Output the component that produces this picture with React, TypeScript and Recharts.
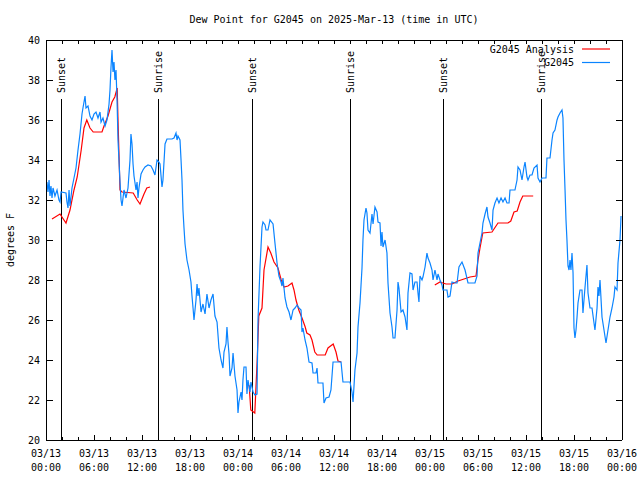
import React from 'react';
import { LineChart, Line, XAxis, YAxis, ReferenceLine, Legend } from 'recharts';

const FONT = "'DejaVu Sans Mono', 'Liberation Mono', monospace";
const TITLE = 'Dew Point for G2045 on 2025-Mar-13 (time in UTC)';
const Y_LABEL = 'degrees F';
const Y_TICKS = [20, 22, 24, 26, 28, 30, 32, 34, 36, 38, 40];
const X_TICKS = [0, 2, 4, 6, 8, 10, 12, 14, 16, 18, 20, 22, 24, 26, 28, 30, 32, 34, 36, 38, 40, 42, 44, 46, 48, 50, 52, 54, 56, 58, 60, 62, 64, 66, 68, 70, 72];
const X_LABEL_HOURS = [0, 6, 12, 18, 24, 30, 36, 42, 48, 54, 60, 66, 72];
const X_LABEL_DATES = ['03/13', '03/13', '03/13', '03/13', '03/14', '03/14', '03/14', '03/14', '03/15', '03/15', '03/15', '03/15', '03/16'];
const X_LABEL_TIMES = ['00:00', '06:00', '12:00', '18:00', '00:00', '06:00', '12:00', '18:00', '00:00', '06:00', '12:00', '18:00', '00:00'];
const SUN_HOURS = [1.875, 14, 25.75, 38, 49.625, 61.875];
const SUN_LABELS = ['Sunset', 'Sunrise', 'Sunset', 'Sunrise', 'Sunset', 'Sunrise'];
const SUN_LINE_TOP = 37.05;

const SERIES_ANALYSIS = 'G2045 Analysis';
const SERIES_OBS = 'G2045';
const SERIES_ORDER = [SERIES_ANALYSIS, SERIES_OBS];
const RED = '#ff0000';
const BLUE = '#0a84ff';

// [hours since 03/13 00:00 UTC, dew point F]
const observed: [number, number][] = [
  [0, 32.5], [0.12, 32.9], [0.25, 32.4], [0.38, 33.0], [0.5, 32.2], [0.62, 32.7], [0.75, 32.1], [0.88, 32.6],
  [1.12, 32.2], [1.38, 32.5], [1.62, 32.0], [1.75, 31.9], [1.88, 32.4], [2.5, 32.35], [2.62, 31.9], [2.75, 31.6],
  [2.88, 32.5], [3.0, 31.7], [3.25, 32.6], [3.5, 33.1], [3.75, 33.6], [4.0, 34.5], [4.25, 35.3], [4.5, 36.3],
  [4.62, 36.6], [4.88, 37.2], [5.0, 36.6], [5.25, 36.7], [5.5, 36.2], [5.75, 36.0], [6.0, 36.3], [6.25, 36.4],
  [6.5, 36.1], [6.75, 36.4], [6.88, 35.9], [7.12, 36.1], [7.38, 35.7], [7.62, 36.0], [7.88, 36.8], [8.0, 37.5],
  [8.12, 38.6], [8.25, 39.5], [8.38, 38.4], [8.5, 38.9], [8.62, 38.0], [8.75, 38.5], [8.88, 37.0], [9.0, 35.0],
  [9.12, 34.0], [9.25, 32.9], [9.38, 32.0], [9.5, 31.7], [9.75, 32.5], [10.0, 32.1], [10.25, 32.6], [10.5, 34.0],
  [10.62, 35.3], [10.75, 34.8], [10.88, 33.8], [11.0, 33.2], [11.25, 32.5], [11.38, 32.9], [11.5, 32.1], [11.62, 32.6],
  [11.88, 33.3], [12.12, 33.5], [12.38, 33.65], [12.75, 33.75], [13.12, 33.7], [13.38, 33.5], [13.62, 33.25], [13.88, 34.0],
  [14.12, 33.9], [14.25, 33.8], [14.5, 32.65], [14.62, 33.0], [14.88, 34.8], [15.12, 35.05], [15.75, 35.05], [16.0, 35.1],
  [16.25, 35.35], [16.38, 35.0], [16.5, 35.2], [16.75, 35.0], [16.88, 34.0], [17.0, 33.0], [17.12, 31.5], [17.25, 30.6],
  [17.38, 29.8], [17.62, 29.0], [17.88, 28.5], [18.12, 27.9], [18.25, 27.2], [18.38, 26.6], [18.5, 26.0], [18.75, 27.0],
  [18.88, 27.8], [19.0, 27.2], [19.12, 27.6], [19.38, 26.4], [19.62, 26.8], [19.88, 26.3], [20.12, 27.3], [20.38, 26.6],
  [20.62, 27.0], [20.88, 27.3], [21.12, 26.2], [21.38, 25.9], [21.62, 24.6], [21.88, 24.0], [22.12, 23.6], [22.25, 24.4],
  [22.5, 24.8], [22.62, 25.65], [22.75, 24.9], [22.88, 24.3], [23.0, 23.2], [23.25, 23.6], [23.38, 24.35], [23.62, 23.2],
  [23.88, 22.5], [24.0, 21.35], [24.12, 21.9], [24.38, 22.4], [24.5, 22.0], [24.62, 23.0], [24.75, 23.65], [25.0, 23.65],
  [25.12, 22.3], [25.25, 23.0], [25.5, 22.4], [25.62, 22.9], [25.88, 22.4], [26.12, 22.25], [26.38, 22.3], [26.5, 26.0],
  [26.75, 28.65], [27.0, 30.65], [27.12, 30.9], [27.38, 30.75], [27.5, 30.5], [27.75, 30.5], [28.0, 31.0], [28.38, 30.8],
  [28.62, 29.85], [28.88, 28.85], [29.12, 28.2], [29.38, 27.9], [29.5, 27.7], [29.62, 28.1], [29.88, 27.1], [30.12, 26.65],
  [30.38, 26.4], [30.62, 26.0], [30.88, 26.5], [31.12, 26.6], [31.38, 26.75], [31.62, 26.6], [31.88, 26.5], [32.0, 25.4],
  [32.12, 25.6], [32.38, 25.0], [32.62, 24.6], [32.88, 23.9], [33.25, 23.85], [33.38, 23.35], [33.75, 23.35], [33.88, 23.6],
  [34.0, 22.85], [34.62, 22.85], [34.75, 21.85], [35.0, 22.1], [35.38, 22.15], [35.62, 22.5], [35.88, 23.9], [36.88, 23.9],
  [37.12, 22.9], [38.0, 22.9], [38.25, 22.4], [38.38, 21.9], [38.62, 23.5], [38.88, 24.35], [39.0, 25.65], [39.25, 26.85],
  [39.5, 28.6], [39.62, 30.0], [39.75, 31.0], [40.0, 31.6], [40.12, 31.35], [40.25, 30.5], [40.5, 30.35], [40.75, 31.3],
  [40.88, 30.8], [41.12, 31.65], [41.38, 31.4], [41.5, 30.9], [41.75, 30.85], [41.88, 29.7], [42.0, 30.4], [42.12, 29.65],
  [42.38, 30.0], [42.62, 29.35], [42.75, 27.85], [43.0, 26.35], [43.25, 25.65], [43.38, 25.1], [43.62, 25.1], [43.88, 26.5],
  [44.0, 27.9], [44.12, 27.6], [44.38, 26.4], [44.62, 26.5], [44.88, 26.15], [45.12, 25.5], [45.25, 27.35], [45.5, 28.35],
  [45.75, 28.3], [45.88, 27.5], [46.12, 27.9], [46.38, 27.9], [46.5, 27.35], [46.62, 26.9], [46.75, 28.2], [47.0, 28.0],
  [47.12, 28.15], [47.38, 28.65], [47.62, 29.35], [47.75, 29.1], [48.0, 28.85], [48.25, 28.5], [48.38, 28.0], [48.62, 28.5],
  [48.88, 28.0], [49.0, 28.3], [49.25, 28.0], [49.5, 27.75], [49.62, 27.5], [49.88, 27.5], [50.12, 27.5], [50.25, 27.15],
  [50.5, 27.2], [50.75, 27.9], [51.12, 27.85], [51.38, 27.85], [51.62, 28.65], [52.0, 28.9], [52.38, 28.5], [52.75, 27.85],
  [53.62, 27.85], [53.88, 28.2], [54.0, 29.35], [54.25, 29.85], [54.5, 30.35], [54.62, 30.85], [54.88, 31.3], [55.12, 31.65],
  [55.25, 31.15], [55.5, 30.85], [55.75, 30.5], [55.88, 31.5], [56.12, 31.85], [56.38, 32.1], [56.62, 31.85], [56.88, 32.1],
  [57.12, 31.9], [57.38, 32.1], [57.62, 31.85], [57.88, 31.85], [58.0, 32.5], [58.62, 32.5], [58.88, 33.0], [59.0, 33.65],
  [59.25, 33.5], [59.5, 33.0], [59.75, 33.65], [59.88, 33.9], [60.12, 33.15], [60.25, 33.0], [60.5, 33.25], [60.75, 33.25],
  [61.0, 33.6], [61.38, 33.75], [61.5, 33.1], [61.75, 32.9], [62.0, 33.1], [62.5, 33.1], [62.62, 34.1], [63.0, 34.1],
  [63.25, 35.0], [63.38, 35.35], [63.62, 35.5], [63.88, 36.0], [64.0, 36.15], [64.25, 36.35], [64.5, 36.5], [64.62, 36.1],
  [64.75, 34.0], [64.88, 32.5], [65.0, 31.0], [65.12, 30.0], [65.25, 28.7], [65.38, 28.5], [65.5, 29.0], [65.62, 28.5],
  [65.75, 29.35], [65.88, 28.35], [66.0, 25.6], [66.12, 25.1], [66.25, 25.5], [66.38, 26.15], [66.5, 26.85], [66.75, 27.5],
  [67.0, 27.5], [67.12, 26.35], [67.38, 27.65], [67.62, 28.75], [67.75, 27.35], [68.0, 26.6], [68.25, 26.6], [68.5, 25.85],
  [68.62, 25.5], [68.88, 26.6], [69.0, 27.65], [69.12, 27.2], [69.25, 28.0], [69.5, 26.15], [69.75, 25.5], [70.0, 24.85],
  [70.25, 25.5], [70.5, 26.15], [70.75, 26.6], [71.0, 27.15], [71.12, 27.65], [71.38, 27.5], [71.5, 28.85], [71.75, 30.0],
  [71.88, 31.2],
];

// null marks a gap in the analysis series
const analysis: [number, number | null][] = [
  [0.75, 31.05], [1.75, 31.3], [2.5, 30.85], [3.0, 31.5], [3.5, 32.5], [3.9, 33.15], [4.4, 34.5], [4.75, 35.6],
  [5.1, 36.0], [5.5, 35.6], [5.9, 35.4], [7.0, 35.4], [7.25, 35.7], [7.75, 36.2], [8.25, 36.9], [8.6, 37.15],
  [8.9, 37.6], [9.0, 36.0], [9.25, 32.5], [9.5, 32.4], [10.9, 32.35], [11.4, 32.0], [11.75, 31.8], [12.25, 32.3],
  [12.6, 32.6], [13.0, 32.65],
  [19.0, null],
  [25.1, 22.85], [25.4, 22.7], [25.6, 21.5], [26.1, 21.35], [26.4, 24.0], [26.6, 26.2], [27.0, 26.6], [27.25, 28.5],
  [27.75, 29.65], [28.1, 29.35], [28.5, 28.9], [29.0, 28.6], [29.4, 28.0], [29.75, 27.65], [30.25, 27.7], [30.75, 27.85],
  [31.0, 27.5], [31.25, 27.0], [31.6, 26.5], [32.0, 26.1], [32.4, 25.65], [32.6, 25.35], [33.0, 25.25], [33.25, 25.0],
  [33.6, 24.4], [33.9, 24.25], [34.9, 24.25], [35.25, 24.6], [35.9, 24.8], [36.25, 24.4], [36.5, 23.95], [36.9, 23.9],
  [42.0, null],
  [48.6, 27.75], [49.25, 27.9], [49.6, 27.85], [50.0, 27.8], [50.75, 27.8], [51.5, 27.95], [52.25, 28.05], [53.0, 28.15],
  [53.75, 28.2], [54.0, 29.0], [54.25, 29.6], [54.6, 30.35], [55.75, 30.4], [56.0, 30.55], [56.5, 30.85], [57.75, 30.85],
  [58.1, 30.95], [58.5, 31.4], [58.9, 31.45], [59.25, 31.9], [59.6, 32.2], [60.9, 32.2],
];

const obsData = observed.map(([t, v]) => ({ t, v }));
const anaData = analysis.map(([t, v]) => ({ t, v }));

const textStyle = { fontFamily: FONT, fontSize: 10, fill: '#000' } as const;

const BottomTick = (props: any) => {
  const { x, y, payload } = props;
  const idx = X_LABEL_HOURS.indexOf(payload.value);
  const len = idx >= 0 ? 5 : 3;
  return (
    <g>
      <line x1={x} x2={x} y1={y} y2={y - len} stroke="#000" shapeRendering="crispEdges" />
      {idx >= 0 && (
        <text x={x} y={y + 17} textAnchor="middle" {...textStyle}>{X_LABEL_DATES[idx]}</text>
      )}
      {idx >= 0 && (
        <text x={x} y={y + 31} textAnchor="middle" {...textStyle}>{X_LABEL_TIMES[idx]}</text>
      )}
    </g>
  );
};

const TopTick = (props: any) => {
  const { x, y } = props;
  return <line x1={x} x2={x} y1={y} y2={y + 4} stroke="#000" shapeRendering="crispEdges" />;
};

const LeftTick = (props: any) => {
  const { x, y, payload } = props;
  return (
    <g>
      <line x1={x} x2={x + 7} y1={y} y2={y} stroke="#000" shapeRendering="crispEdges" />
      <text x={x - 6} y={y + 3.5} textAnchor="end" {...textStyle}>{payload.value}</text>
    </g>
  );
};

const RightTick = (props: any) => {
  const { x, y } = props;
  return <line x1={x} x2={x - 6} y1={y} y2={y} stroke="#000" shapeRendering="crispEdges" />;
};

const makeSunLabel = (text: string) => (props: any) => {
  const vb = props.viewBox || {};
  const x = (vb.x ?? 0) + 3.5;
  const y = (vb.y ?? 0) - 6;
  return (
    <text x={x} y={y} transform={`rotate(-90 ${x} ${y})`} textAnchor="start" {...textStyle}>
      {text}
    </text>
  );
};

const LegendContent = (props: any) => {
  const raw = (props.payload || []) as any[];
  const payload = SERIES_ORDER.map((n) => raw.find((p) => p.value === n)).filter(Boolean);
  return (
    <svg width={640} height={480} style={{ position: 'absolute', left: 0, top: 0, pointerEvents: 'none' }}>
      {payload.map((p, i) => (
        <g key={i}>
          <text x={574} y={52.5 + i * 13.5} textAnchor="end" {...textStyle}>{p.value}</text>
          <line x1={582} x2={610} y1={49 + i * 13.5} y2={49 + i * 13.5} stroke={p.color} strokeWidth={1.2} />
        </g>
      ))}
    </svg>
  );
};

export default function App() {
  return (
    <div style={{ position: 'absolute', left: 0, top: 0, width: 640, height: 480, background: '#fff' }}>
      <LineChart width={640} height={480} margin={{ top: 0, right: 0, bottom: 0, left: 0 }}>
        <XAxis
          xAxisId="b"
          type="number"
          dataKey="t"
          domain={[0, 72]}
          allowDataOverflow
          ticks={X_TICKS}
          interval={0}
          height={40}
          tickSize={0}
          tickMargin={0}
          tickLine={false}
          tick={<BottomTick />}
          axisLine={{ stroke: '#000', shapeRendering: 'crispEdges' }}
        />
        <XAxis
          xAxisId="top"
          orientation="top"
          type="number"
          dataKey="t"
          domain={[0, 72]}
          allowDataOverflow
          ticks={X_TICKS}
          interval={0}
          height={40}
          tickSize={0}
          tickMargin={0}
          tickLine={false}
          tick={<TopTick />}
          axisLine={{ stroke: '#000', shapeRendering: 'crispEdges' }}
        />
        <YAxis
          yAxisId="l"
          type="number"
          domain={[20, 40]}
          allowDataOverflow
          ticks={Y_TICKS}
          interval={0}
          width={46}
          tickSize={0}
          tickMargin={0}
          tickLine={false}
          tick={<LeftTick />}
          axisLine={{ stroke: '#000', shapeRendering: 'crispEdges' }}
        />
        <YAxis
          yAxisId="r"
          orientation="right"
          type="number"
          domain={[20, 40]}
          allowDataOverflow
          ticks={Y_TICKS}
          interval={0}
          width={18}
          tickSize={0}
          tickMargin={0}
          tickLine={false}
          tick={<RightTick />}
          axisLine={{ stroke: '#000', shapeRendering: 'crispEdges' }}
        />
        {SUN_HOURS.map((h, i) => (
          <ReferenceLine
            key={i}
            xAxisId="b"
            yAxisId="l"
            segment={[{ x: h, y: 20 }, { x: h, y: SUN_LINE_TOP }]}
            stroke="#000"
            strokeWidth={1}
            shapeRendering="crispEdges"
            label={makeSunLabel(SUN_LABELS[i])}
          />
        ))}
        <Line
          xAxisId="b"
          yAxisId="l"
          data={anaData}
          dataKey="v"
          name={SERIES_ANALYSIS}
          stroke={RED}
          strokeWidth={1.2}
          dot={false}
          activeDot={false}
          type="linear"
          connectNulls={false}
          isAnimationActive={false}
        />
        <Line
          xAxisId="b"
          yAxisId="l"
          data={obsData}
          dataKey="v"
          name={SERIES_OBS}
          stroke={BLUE}
          strokeWidth={1.2}
          dot={false}
          activeDot={false}
          type="linear"
          isAnimationActive={false}
        />
        <Legend
          layout="horizontal"
          verticalAlign="middle"
          align="center"
          content={<LegendContent />}
          wrapperStyle={{ position: 'absolute', left: 0, top: 0, width: 640, height: 480, pointerEvents: 'none' }}
        />
      </LineChart>
      <svg width={640} height={480} style={{ position: 'absolute', left: 0, top: 0, pointerEvents: 'none' }}>
        <text x={334} y={23} textAnchor="middle" {...textStyle}>{TITLE}</text>
        <text x={13.5} y={240} textAnchor="middle" transform="rotate(-90 13.5 240)" {...textStyle}>{Y_LABEL}</text>
      </svg>
    </div>
  );
}
